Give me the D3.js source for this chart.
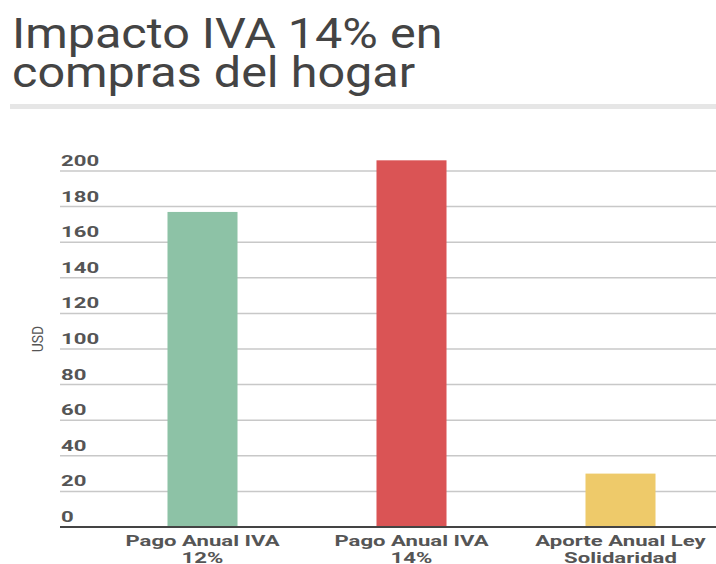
<!DOCTYPE html>
<html>
<head>
<meta charset="utf-8">
<script src="https://cdn.jsdelivr.net/npm/d3@7"></script>
<style>
  body { margin: 0; background: #fff; }
  svg { display: block; font-family: Roboto, "Noto Sans", sans-serif; }
</style>
</head>
<body>
<div id="chart"></div>
<script>
// data
const titleLines = ["Impacto IVA 14% en", "compras del hogar"];
const categories = [["Pago Anual IVA", "12%"], ["Pago Anual IVA", "14%"], ["Aporte Anual Ley", "Solidaridad"]];
const values = [177, 206, 30];
const colors = ["#8dc2a6", "#da5455", "#eeca6a"];
const yTicks = [0, 20, 40, 60, 80, 100, 120, 140, 160, 180, 200];
const yLabel = "USD";

const width = 716, height = 564;

const svg = d3.select("#chart").append("svg")
    .attr("width", width)
    .attr("height", height);

// the reference text is drawn wide, so stretch glyphs horizontally
function stretch(sel, k) {
    sel.each(function () {
        var len = this.getComputedTextLength();
        d3.select(this)
            .attr("textLength", len * k)
            .attr("lengthAdjust", "spacingAndGlyphs");
    });
}

// title
svg.selectAll(".title")
    .data(titleLines)
    .enter()
    .append("text")
    .attr("class", "title")
    .attr("x", 12)
    .attr("y", (d, i) => 48 + i * 39)
    .attr("font-size", 42)
    .attr("fill", "#444")
    .text(d => d)
    .call(stretch, 1.155);

svg.append("rect")
    .attr("x", 10).attr("y", 104)
    .attr("width", width - 10).attr("height", 5)
    .attr("fill", "#e6e6e6");

// scales
const y = d3.scaleLinear().domain([0, 200]).range([527, 171]);
const x = d3.scaleBand()
    .domain(d3.range(values.length))
    .range([98, 725])
    .paddingInner(0.665)
    .paddingOuter(0.3325);

// gridlines + tick labels
const grid = svg.append("g");
grid.selectAll("line")
    .data(yTicks.filter(d => d > 0))
    .enter()
    .append("line")
    .attr("x1", 60).attr("x2", width)
    .attr("y1", d => y(d)).attr("y2", d => y(d))
    .attr("stroke", "#c8c8c8")
    .attr("stroke-width", 1.5);

grid.selectAll("text")
    .data(yTicks)
    .enter()
    .append("text")
    .attr("x", 61)
    .attr("y", d => y(d) - 5)
    .attr("font-size", 14)
    .attr("font-weight", "bold")
    .attr("fill", "#555")
    .text(d => d)
    .call(stretch, 1.58);

// y label
svg.append("text")
    .attr("transform", "translate(43,339) rotate(-90)")
    .attr("text-anchor", "middle")
    .attr("font-size", 14)
    .attr("fill", "#555")
    .text(yLabel);

// bars
svg.selectAll(".bar")
    .data(values)
    .enter()
    .append("rect")
    .attr("class", "bar")
    .attr("x", (d, i) => x(i))
    .attr("width", x.bandwidth())
    .attr("y", d => y(d))
    .attr("height", d => y(0) - y(d))
    .attr("fill", (d, i) => colors[i]);

// baseline
svg.append("line")
    .attr("x1", 60).attr("x2", width)
    .attr("y1", y(0)).attr("y2", y(0))
    .attr("stroke", "#444")
    .attr("stroke-width", 2);

// category labels, one text per line
const catLines = [];
categories.forEach((c, i) => c.forEach((s, j) => catLines.push({ s: s, i: i, j: j })));
svg.selectAll(".cat")
    .data(catLines)
    .enter()
    .append("text")
    .attr("class", "cat")
    .attr("text-anchor", "middle")
    .attr("x", d => x(d.i) + x.bandwidth() / 2)
    .attr("y", d => 546 + d.j * 17)
    .attr("font-size", 14)
    .attr("font-weight", "bold")
    .attr("fill", "#555")
    .text(d => d.s)
    .call(stretch, 1.58);
</script>
</body>
</html>
